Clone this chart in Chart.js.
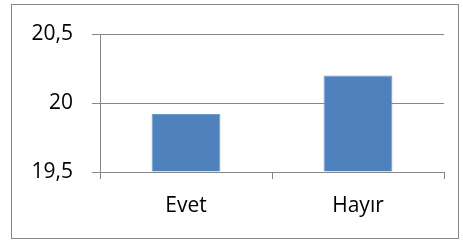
<html>
<head>
    <meta http-equiv="Content-Type" content="text/html; charset=utf-8"/>
    <title></title>
    <style>
        body { margin: 0; background: #fff; }
        .frame { position: absolute; left: 11px; top: 4px; width: 446px; height: 233px; border: 1px solid #888; }
        .chart { position: absolute; left: 0; top: 0; width: 463px; height: 243px; }
    </style>
</head>
<body>
<div class="frame"></div>
<div class="chart">
    <canvas id="bar" width="463" height="243"></canvas>
</div>

<script src="https://cdn.jsdelivr.net/npm/chart.js@4"></script>
<script>
    var categories = ["Evet", "Hayır"];
    var values = [19.92, 20.2];
    var yTicks = [19.5, 20, 20.5];

    var ctx = document.getElementById("bar").getContext("2d");
    var bar = new Chart(ctx, {
        type: 'bar',
        data: {
            labels: categories,
            datasets: [
                {
                    data: values,
                    backgroundColor: '#4F81BD',
                    borderColor: '#6F97C9',
                    borderWidth: 1,
                    barPercentage: 0.4,
                    categoryPercentage: 1,
                    base: yTicks[0]
                }
            ]
        },
        options: {
            responsive: false,
            animation: false,
            devicePixelRatio: 1,
            layout: {padding: {top: 34, right: 19, left: 0, bottom: 0}},
            plugins: {legend: {display: false}, tooltip: {enabled: false}},
            scales: {
                x: {
                    grid: {drawOnChartArea: false, drawTicks: true, tickLength: 7, color: '#878787', offset: true},
                    border: {color: '#878787'},
                    ticks: {color: '#000', padding: 14, font: {family: 'Open Sans', size: 21}},
                    afterFit: function (s) { s.height = 71; }
                },
                y: {
                    min: yTicks[0],
                    max: yTicks[yTicks.length - 1],
                    afterBuildTicks: function (s) { s.ticks = yTicks.map(function (v) { return {value: v}; }); },
                    grid: {color: '#878787', tickLength: 8},
                    border: {color: '#878787'},
                    ticks: {
                        color: '#000', padding: 19, autoSkip: false, font: {family: 'Open Sans', size: 21},
                        callback: function (v) { return String(v).replace('.', ','); }
                    },
                    afterFit: function (s) { s.width = 100; }
                }
            }
        }
    });
</script>
</body>
</html>
